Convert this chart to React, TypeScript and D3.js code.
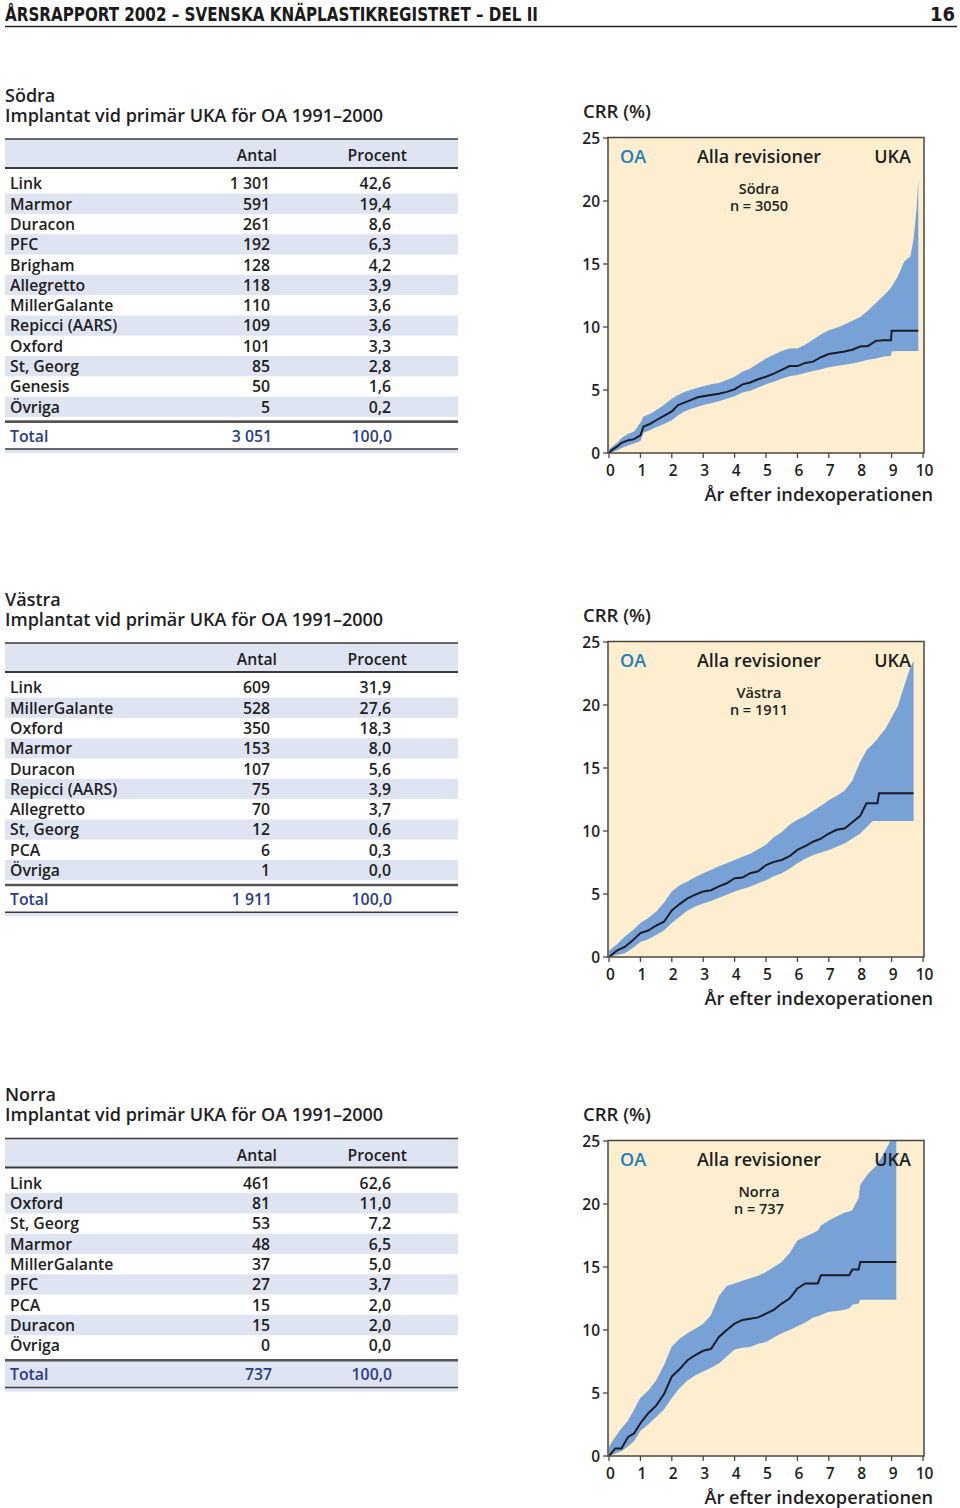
import React from 'react';
import * as d3 from 'd3';

const FONT = "'Open Sans', 'Noto Sans', sans-serif";
const NARROW = "'Liberation Sans Narrow', 'DejaVu Sans Condensed', sans-serif";

// ---------- Table data ----------
const sodraNames = ['Link', 'Marmor', 'Duracon', 'PFC', 'Brigham', 'Allegretto', 'MillerGalante', 'Repicci (AARS)', 'Oxford', 'St, Georg', 'Genesis', 'Övriga'];
const sodraAntal = ['1 301', '591', '261', '192', '128', '118', '110', '109', '101', '85', '50', '5'];
const sodraProcent = ['42,6', '19,4', '8,6', '6,3', '4,2', '3,9', '3,6', '3,6', '3,3', '2,8', '1,6', '0,2'];
const sodraTotal = ['3 051', '100,0'];

const vastraNames = ['Link', 'MillerGalante', 'Oxford', 'Marmor', 'Duracon', 'Repicci (AARS)', 'Allegretto', 'St, Georg', 'PCA', 'Övriga'];
const vastraAntal = ['609', '528', '350', '153', '107', '75', '70', '12', '6', '1'];
const vastraProcent = ['31,9', '27,6', '18,3', '8,0', '5,6', '3,9', '3,7', '0,6', '0,3', '0,0'];
const vastraTotal = ['1 911', '100,0'];

const norraNames = ['Link', 'Oxford', 'St, Georg', 'Marmor', 'MillerGalante', 'PFC', 'PCA', 'Duracon', 'Övriga'];
const norraAntal = ['461', '81', '53', '48', '37', '27', '15', '15', '0'];
const norraProcent = ['62,6', '11,0', '7,2', '6,5', '5,0', '3,7', '2,0', '2,0', '0,0'];
const norraTotal = ['737', '100,0'];

// ---------- Curve data (years, CRR %, lower CI, upper CI) ----------
const sodraT = [0, 0.1, 0.25, 0.4, 0.6, 0.8, 1.0, 1.1, 1.3, 1.5, 1.75, 2.0, 2.2, 2.4, 2.6, 2.8, 3.0, 3.25, 3.5, 3.75, 4.0, 4.25, 4.5, 4.75, 5.0, 5.25, 5.5, 5.75, 6.0, 6.25, 6.5, 6.75, 7.0, 7.25, 7.5, 7.75, 8.0, 8.25, 8.5, 8.75, 8.98, 9.0, 9.2, 9.4, 9.6, 9.7, 9.8, 9.85];
const sodraEst = [0, 0.25, 0.5, 0.8, 1.0, 1.1, 1.4, 2.1, 2.3, 2.6, 2.95, 3.3, 3.8, 4.0, 4.2, 4.4, 4.5, 4.6, 4.7, 4.85, 5.05, 5.45, 5.6, 5.85, 6.05, 6.3, 6.6, 6.9, 6.9, 7.15, 7.25, 7.6, 7.85, 7.95, 8.05, 8.2, 8.45, 8.5, 8.9, 8.95, 8.95, 9.7, 9.7, 9.7, 9.7, 9.7, 9.7, 9.7];
const sodraLo = [0, 0.05, 0.2, 0.4, 0.6, 0.75, 0.95, 1.6, 1.8, 2.05, 2.3, 2.6, 3.0, 3.3, 3.5, 3.65, 3.8, 3.95, 4.1, 4.3, 4.5, 4.8, 4.95, 5.2, 5.45, 5.65, 5.9, 6.1, 6.2, 6.35, 6.5, 6.65, 6.8, 6.9, 7.0, 7.1, 7.25, 7.4, 7.5, 7.65, 7.7, 8.05, 8.1, 8.1, 8.1, 8.1, 8.1, 8.1];
const sodraHi = [0.3, 0.5, 0.8, 1.2, 1.5, 1.7, 2.4, 2.9, 3.1, 3.4, 3.8, 4.3, 4.6, 4.85, 5.0, 5.15, 5.3, 5.45, 5.55, 5.8, 6.05, 6.45, 6.7, 7.1, 7.5, 7.8, 8.1, 8.3, 8.3, 8.6, 9.0, 9.4, 9.75, 9.95, 10.2, 10.5, 10.8, 11.3, 11.9, 12.5, 13.1, 13.2, 14.0, 15.2, 15.6, 17.0, 19.5, 21.7];

const vastraT = [0, 0.25, 0.5, 0.75, 1.0, 1.25, 1.5, 1.75, 2.0, 2.25, 2.5, 2.75, 3.0, 3.25, 3.5, 3.75, 4.0, 4.25, 4.5, 4.75, 5.0, 5.25, 5.5, 5.75, 6.0, 6.25, 6.5, 6.75, 7.0, 7.25, 7.5, 7.75, 8.0, 8.2, 8.4, 8.55, 8.6, 8.8, 9.0, 9.2, 9.4, 9.6, 9.7];
const vastraEst = [0, 0.5, 0.8, 1.3, 1.9, 2.1, 2.5, 2.8, 3.7, 4.2, 4.65, 4.95, 5.2, 5.3, 5.6, 5.85, 6.25, 6.3, 6.65, 6.8, 7.3, 7.55, 7.7, 8.0, 8.5, 8.8, 9.15, 9.4, 9.8, 10.1, 10.2, 10.7, 11.2, 12.2, 12.2, 12.2, 13.0, 13.0, 13.0, 13.0, 13.0, 13.0, 13.0];
const vastraLo = [0, 0.15, 0.3, 0.7, 1.2, 1.4, 1.75, 2.1, 2.7, 3.2, 3.7, 4.0, 4.25, 4.45, 4.7, 4.95, 5.2, 5.4, 5.6, 5.85, 6.1, 6.4, 6.65, 7.0, 7.45, 7.8, 8.1, 8.3, 8.5, 8.75, 9.0, 9.4, 9.8, 10.3, 10.8, 10.8, 10.8, 10.8, 10.8, 10.8, 10.8, 10.8, 10.8];
const vastraHi = [0.5, 1.0, 1.6, 2.1, 2.7, 3.1, 3.6, 4.3, 5.2, 5.7, 6.0, 6.35, 6.65, 6.9, 7.2, 7.45, 7.7, 7.95, 8.2, 8.55, 8.9, 9.5, 9.9, 10.5, 10.9, 11.2, 11.6, 12.0, 12.45, 12.8, 13.2, 14.0, 15.5, 16.4, 16.9, 17.3, 17.5, 18.1, 19.0, 19.9, 21.5, 23.0, 23.5];

const norraT = [0, 0.2, 0.4, 0.6, 0.8, 1.0, 1.25, 1.5, 1.75, 2.0, 2.25, 2.5, 2.75, 3.0, 3.25, 3.5, 3.75, 4.0, 4.25, 4.5, 4.75, 5.0, 5.25, 5.5, 5.75, 6.0, 6.25, 6.5, 6.65, 6.75, 7.0, 7.25, 7.5, 7.65, 7.75, 7.95, 8.0, 8.25, 8.5, 8.75, 9.0, 9.15];
const norraEst = [0, 0.6, 0.6, 1.5, 1.8, 2.6, 3.4, 4.0, 4.9, 6.3, 6.9, 7.6, 8.0, 8.35, 8.5, 9.45, 10.0, 10.5, 10.8, 10.9, 11.0, 11.3, 11.6, 12.1, 12.5, 13.3, 13.7, 13.7, 13.7, 14.35, 14.35, 14.35, 14.35, 14.35, 14.8, 14.8, 15.4, 15.4, 15.4, 15.4, 15.4, 15.4];
const norraLo = [0, 0.2, 0.4, 0.75, 1.2, 2.0, 2.5, 3.1, 3.7, 4.6, 5.4, 6.0, 6.4, 6.7, 7.0, 7.35, 7.9, 8.45, 8.6, 8.65, 8.9, 9.05, 9.4, 9.75, 10.0, 10.3, 10.6, 11.0, 11.1, 11.2, 11.45, 11.5, 11.6, 11.7, 12.0, 12.1, 12.4, 12.4, 12.4, 12.4, 12.4, 12.4];
const norraHi = [0.75, 1.5, 2.2, 2.8, 3.7, 4.6, 5.2, 6.0, 7.2, 8.7, 9.3, 9.75, 10.1, 10.5, 11.2, 12.7, 13.5, 13.7, 13.9, 14.1, 14.3, 14.6, 15.0, 15.4, 16.1, 17.1, 17.4, 17.7, 17.9, 18.3, 18.7, 19.0, 19.3, 19.4, 19.5, 20.5, 21.5, 22.4, 23.0, 24.0, 25.2, 25.2];

const xTicks = [0, 1, 2, 3, 4, 5, 6, 7, 8, 9, 10];
const yTicks = [0, 5, 10, 15, 20, 25];

const BAND = '#dfe4f2';
const DARK = '#3a3a3a';
const NAVY = '#2b3d85';
const TXT = '#1e1e1e';
const FS = 15.8;

type TableProps = { top: number; title: string; names: string[]; antal: string[]; procent: string[]; total: string[] };

function Table({ top, title, names, antal, procent, total }: TableProps) {
  const rowBase = (i: number) => top + 50.3 + i * 20.3;
  const lastBase = rowBase(names.length - 1);
  const totLine = lastBase + 9;
  const totBase = totLine + 20;
  const botLine = totBase + 7.3;
  const totShaded = names.length % 2 === 1;
  return (
    <g fontFamily={FONT}>
      <text x={5} y={top - 37.5} fontSize={18} fontWeight={600} fill={TXT}>{title}</text>
      <text x={5} y={top - 17.3} fontSize={18} fontWeight={600} fill={TXT}>Implantat vid primär UKA för OA 1991–2000</text>
      <rect x={5} y={top} width={453} height={29} fill={BAND} />
      <line x1={5} x2={458} y1={top} y2={top} stroke={DARK} strokeWidth={1.5} />
      <text x={277} y={top + 22} textAnchor="end" fontSize={FS} fontWeight={600} fill={TXT}>Antal</text>
      <text x={407} y={top + 22} textAnchor="end" fontSize={FS} fontWeight={600} fill={TXT}>Procent</text>
      <line x1={5} x2={458} y1={top + 29} y2={top + 29} stroke={DARK} strokeWidth={2.2} />
      {names.map((n, i) => (
        <g key={n + i}>
          {i % 2 === 1 && <rect x={5} y={rowBase(i) - 16} width={453} height={20.3} fill={BAND} />}
          <text x={10} y={rowBase(i)} fontSize={FS} fontWeight={600} fill={TXT}>{n}</text>
          <text x={270} y={rowBase(i)} textAnchor="end" fontSize={FS} fontWeight={600} fill={TXT}>{antal[i]}</text>
          <text x={391} y={rowBase(i)} textAnchor="end" fontSize={FS} fontWeight={600} fill={TXT}>{procent[i]}</text>
        </g>
      ))}
      {totShaded && <rect x={5} y={totLine} width={453} height={botLine - totLine} fill={BAND} />}
      <line x1={5} x2={458} y1={totLine} y2={totLine} stroke="#555" strokeWidth={2.6} />
      <text x={10} y={totBase} fontSize={FS} fontWeight={600} fill={NAVY}>Total</text>
      <text x={272} y={totBase} textAnchor="end" fontSize={FS} fontWeight={600} fill={NAVY}>{total[0]}</text>
      <text x={392} y={totBase} textAnchor="end" fontSize={FS} fontWeight={600} fill={NAVY}>{total[1]}</text>
      <rect x={5} y={botLine} width={453} height={4} fill={BAND} />
      <line x1={5} x2={458} y1={botLine} y2={botLine} stroke={DARK} strokeWidth={1.5} />
    </g>
  );
}

type ChartProps = { off: number; id: string; region: string; n: string; t: number[]; est: number[]; lo: number[]; hi: number[] };

function Chart({ off, id, region, n, t, est, lo, hi }: ChartProps) {
  const x = d3.scaleLinear().domain([0, 10]).range([609, 923]);
  const y = d3.scaleLinear().domain([0, 25]).range([453 + off, 138 + off]);
  const idx = t.map((_, i) => i);
  const area = d3.area<number>().x((i) => x(t[i])).y0((i) => y(lo[i])).y1((i) => y(hi[i])).curve(d3.curveLinear);
  const line = d3.line<number>().x((i) => x(t[i])).y((i) => y(est[i])).curve(d3.curveLinear);
  const top = 138 + off;
  const bot = 453 + off;
  return (
    <g fontFamily={FONT}>
      <defs>
        <clipPath id={id}>
          <rect x={608} y={top - 1} width={316} height={bot - top + 1} />
        </clipPath>
      </defs>
      <text x={583} y={118 + off} fontSize={18.5} fontWeight={600} fill={TXT}>CRR (%)</text>
      <rect x={608} y={top - 0.5} width={316} height={bot - top + 0.5} fill="#fdeecf" />
      <g clipPath={`url(#${id})`}>
        <path d={area(idx) || ''} fill="#78a1d5" />
        <path d={line(idx) || ''} fill="none" stroke="#1b1b26" strokeWidth={2} strokeLinejoin="miter" />
      </g>
      <rect x={608} y={top - 0.5} width={316} height={bot - top + 0.5} fill="none" stroke="#4a4740" strokeWidth={1.5} />
      {yTicks.map((v) => (
        <g key={'y' + v}>
          <line x1={603} x2={608} y1={y(v)} y2={y(v)} stroke="#4a4740" strokeWidth={1.3} />
          <text x={600} y={y(v) + 5.5} textAnchor="end" fontSize={15.5} fontWeight={600} fill={TXT}>{v}</text>
        </g>
      ))}
      {xTicks.map((v) => (
        <g key={'x' + v}>
          <line x1={x(v)} x2={x(v)} y1={bot} y2={bot + 5} stroke="#4a4740" strokeWidth={1.3} />
          <text x={x(v) + 1.5} y={475.5 + off} textAnchor="middle" fontSize={15.5} fontWeight={600} fill={TXT}>{v}</text>
        </g>
      ))}
      <text x={620} y={162.5 + off} fontSize={18} fontWeight={600} fill="#1f7ec0">OA</text>
      <text x={759} y={162.5 + off} textAnchor="middle" fontSize={18} fontWeight={600} fill={TXT}>Alla revisioner</text>
      <text x={911} y={162.5 + off} textAnchor="end" fontSize={18} fontWeight={600} fill={TXT}>UKA</text>
      <text x={759} y={194 + off} textAnchor="middle" fontSize={14.5} fontWeight={600} fill={TXT}>{region}</text>
      <text x={759} y={210.5 + off} textAnchor="middle" fontSize={14.5} fontWeight={600} fill={TXT}>{n}</text>
      <text x={933} y={501 + off} textAnchor="end" fontSize={18.2} fontWeight={600} fill={TXT}>År efter indexoperationen</text>
    </g>
  );
}

export default function App() {
  return (
    <svg width={960} height={1508} viewBox="0 0 960 1508" style={{ position: 'absolute', left: 0, top: 0, background: '#fff' }}>
      <rect x={0} y={0} width={960} height={1508} fill="#fff" />
      <text x={5} y={21} fontFamily={NARROW} fontSize={20} fontWeight={700} fill="#1a1a1a" textLength={533} lengthAdjust="spacingAndGlyphs">ÅRSRAPPORT 2002 – SVENSKA KNÄPLASTIKREGISTRET – DEL II</text>
      <text x={955} y={21} fontFamily={NARROW} fontSize={20} fontWeight={700} fill="#1a1a1a" textAnchor="end">16</text>
      <line x1={5} x2={957} y1={26.5} y2={26.5} stroke="#222" strokeWidth={1.5} />

      <Table top={139} title="Södra" names={sodraNames} antal={sodraAntal} procent={sodraProcent} total={sodraTotal} />
      <Table top={643} title="Västra" names={vastraNames} antal={vastraAntal} procent={vastraProcent} total={vastraTotal} />
      <Table top={1138.5} title="Norra" names={norraNames} antal={norraAntal} procent={norraProcent} total={norraTotal} />

      <Chart off={0} id="clip1" region="Södra" n="n = 3050" t={sodraT} est={sodraEst} lo={sodraLo} hi={sodraHi} />
      <Chart off={504} id="clip2" region="Västra" n="n = 1911" t={vastraT} est={vastraEst} lo={vastraLo} hi={vastraHi} />
      <Chart off={1003} id="clip3" region="Norra" n="n = 737" t={norraT} est={norraEst} lo={norraLo} hi={norraHi} />
    </svg>
  );
}
